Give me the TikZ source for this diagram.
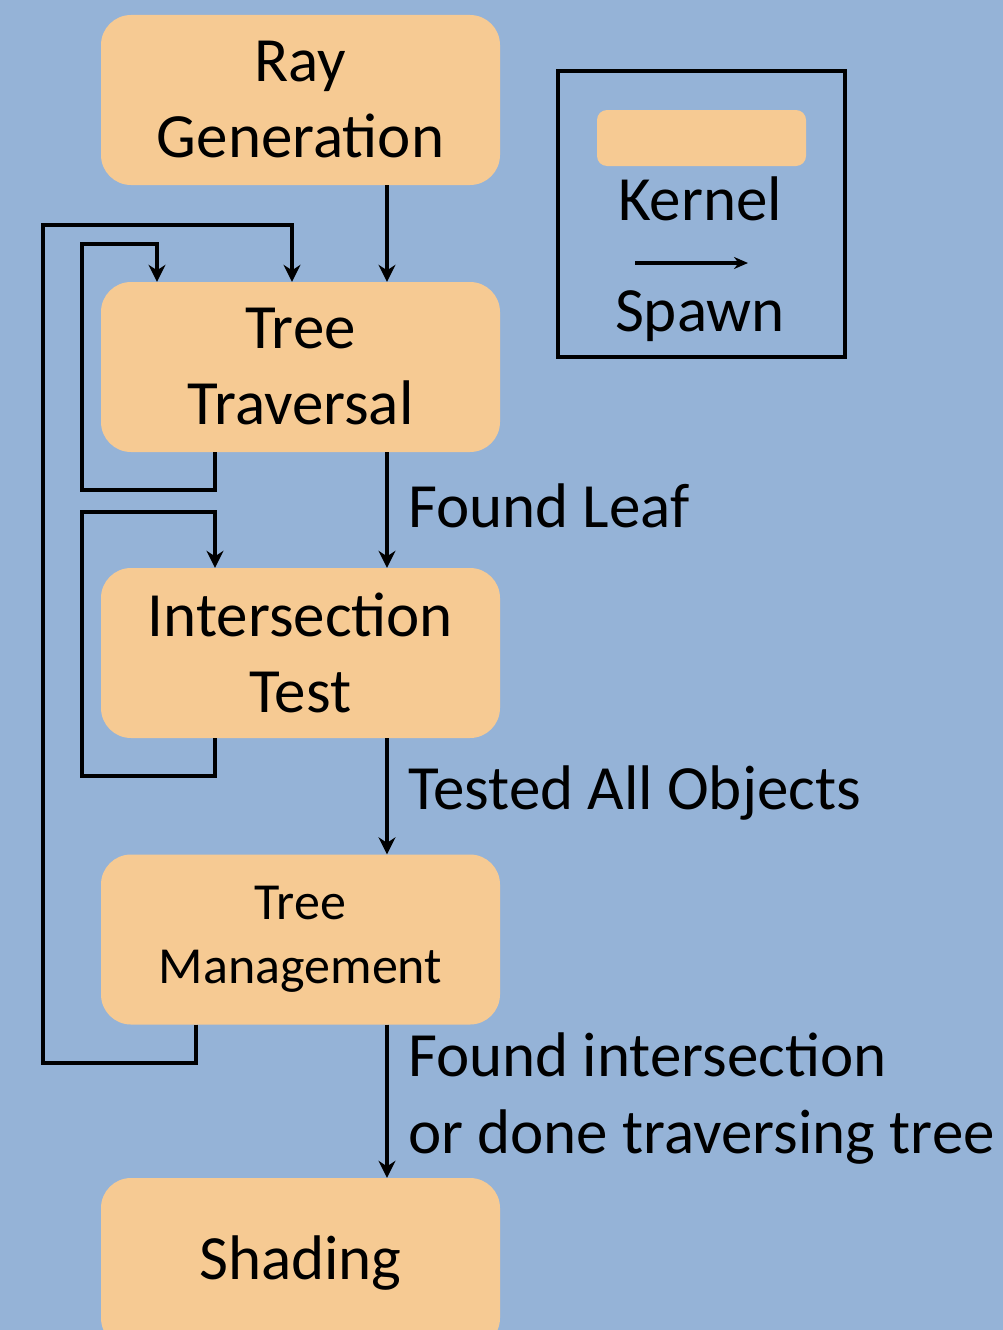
\documentclass[tikz,border=0pt]{standalone}
\usepackage{fontspec}
\setmainfont{Carlito}
\usetikzlibrary{arrows.meta,positioning}
\definecolor{bgblue}{HTML}{95B3D7}
\definecolor{kernelfill}{HTML}{F6CA93}
\tikzset{
  kernelbox/.style={fill=kernelfill,rounded corners=30pt,minimum width=399pt,
    minimum height=170pt,inner sep=0pt,align=center,font=\fontsize{63}{76}\selectfont},
  spawn/.style={-{Stealth[length=17pt,width=17pt]},line width=4.5pt},
  loopline/.style={spawn,rounded corners=0pt},
  steptext/.style={anchor=west,inner sep=0pt,align=left,font=\fontsize{63}{77}\selectfont},
}
\begin{document}
\begin{tikzpicture}[x=1pt,y=-1pt]
  \clip (0,0) rectangle (1003,1330);
  \useasboundingbox (0,0) rectangle (1003,1330);
  \fill[bgblue] (0,0) rectangle (1003,1330);
  % kernels
  \node[kernelbox] (raygen) at (300.5,100) {Ray\\Generation};
  \node[kernelbox] (traverse) at (300.5,367) {Tree\\Traversal};
  \node[kernelbox] (intersect) at (300.5,653) {Intersection\\Test};
  \node[kernelbox,font=\fontsize{52}{64}\selectfont] (manage) at (300.5,939.5) {Tree\\Management};
  \node[kernelbox] (shading) at (300.5,1263) {Shading};
  % spawns down the chain
  \draw[spawn] ([xshift=86.5pt]raygen.south) -- ([xshift=86.5pt]traverse.north);
  \draw[spawn] ([xshift=86.5pt]traverse.south) -- ([xshift=86.5pt]intersect.north);
  \draw[spawn] ([xshift=86.5pt]intersect.south) -- ([xshift=86.5pt]manage.north);
  \draw[spawn] ([xshift=86.5pt]manage.south) -- ([xshift=86.5pt]shading.north);
  \node[steptext] (leaf) at (408,506) {Found Leaf};
  \node[steptext] (tested) at (408,793) {Tested All Objects};
  \node[steptext] (found) at (408,1099) {Found intersection\\or done traversing tree};
  % loops back
  \draw[loopline] ([xshift=-104.5pt]manage.south) |- (43,1063) |- (292,225)
    -- ([xshift=-8.5pt]traverse.north);
  \draw[loopline] ([xshift=-85.5pt]traverse.south) |- (82,490) |- (157,244)
    -- ([xshift=-143.5pt]traverse.north);
  \draw[loopline] ([xshift=-85.5pt]intersect.south) |- (82,776) |- (215,512)
    -- ([xshift=-85.5pt]intersect.north);
  % legend
  \node[draw,line width=4pt,minimum width=287pt,minimum height=286pt,inner sep=0pt] (legend) at (701.5,214) {};
  \node[fill=kernelfill,rounded corners=10pt,minimum width=209pt,minimum height=56pt,inner sep=0pt] (kernelkey) at (701.5,138) {};
  \node[font=\fontsize{63}{76}\selectfont,inner sep=0pt] (kernellabel) at (700,199) {Kernel};
  \coordinate (spawnstart) at (635,263);
  \coordinate (spawnend) at (748,263);
  \draw[-{Stealth[length=14pt,width=12pt]},line width=3.5pt] (spawnstart) -- (spawnend);
  \node[font=\fontsize{63}{76}\selectfont,inner sep=0pt] (spawnlabel) at (700,316) {Spawn};
\end{tikzpicture}
\end{document}
